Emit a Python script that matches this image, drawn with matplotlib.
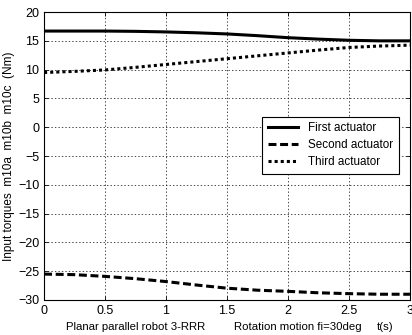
import matplotlib
matplotlib.use("Agg")
import matplotlib.pyplot as plt

t = [0, 0.25, 0.5, 0.75, 1.0, 1.25, 1.5, 1.75, 2.0, 2.25, 2.5, 2.75, 3.0]
first = [16.7, 16.7, 16.7, 16.65, 16.55, 16.4, 16.2, 15.9, 15.55, 15.3, 15.1, 15.0, 15.0]
second = [-25.5, -25.6, -25.9, -26.3, -26.8, -27.4, -27.95, -28.3, -28.5, -28.75, -28.9, -29.0, -29.0]
third = [9.5, 9.7, 9.95, 10.4, 10.9, 11.4, 11.9, 12.4, 12.9, 13.4, 13.85, 14.1, 14.25]
labels = ["First actuator", "Second actuator", "Third actuator"]
xticks = [0, 0.5, 1, 1.5, 2, 2.5, 3]
yticks = [-30, -25, -20, -15, -10, -5, 0, 5, 10, 15, 20]

plt.rcParams['font.family'] = ['Liberation Sans', 'DejaVu Sans']

fig = plt.figure(figsize=(4.12, 3.35), dpi=100)
ax = fig.add_axes([0.107, 0.1045, 0.888, 0.8595])

ax.plot(t, first, color='black', lw=2.2, linestyle='-', label=labels[0])
ax.plot(t, second, color='black', lw=2.2, linestyle=(0, (2.6, 1.2)), label=labels[1])
ax.plot(t, third, color='black', lw=2.2, linestyle=(0, (1, 1)), label=labels[2])

ax.set_xlim(0, 3)
ax.set_ylim(-30, 20)
ax.set_xticks(xticks)
ax.set_xticklabels(['0', '0.5', '1', '1.5', '2', '2.5', '3'])
ax.set_yticks(yticks)
ax.tick_params(direction='in', labelsize=9, length=3, width=0.6, top=True, right=True)
ax.grid(True, color='black', linestyle=(0, (2, 3)), linewidth=0.5)
for s in ax.spines.values():
    s.set_linewidth(0.8)

ax.set_ylabel("Input torques  m10a  m10b  m10c  (Nm)", fontsize=8.5, labelpad=2)
ax.text(0.06, -0.078, "Planar parallel robot 3-RRR", transform=ax.transAxes, fontsize=8.2, va='top')
ax.text(0.52, -0.078, "Rotation motion fi=30deg", transform=ax.transAxes, fontsize=8.2, va='top')
ax.text(0.91, -0.078, "t(s)", transform=ax.transAxes, fontsize=8.2, va='top')

leg = ax.legend(loc='upper left', bbox_to_anchor=(0.596, 0.637), fontsize=8.4, frameon=True,
                fancybox=False, edgecolor='black', framealpha=1, handlelength=2.6,
                borderpad=0.5, labelspacing=0.4, handletextpad=0.8, borderaxespad=0)
leg.get_frame().set_linewidth(0.8)

fig.savefig("out.png", dpi=100, facecolor='white')
